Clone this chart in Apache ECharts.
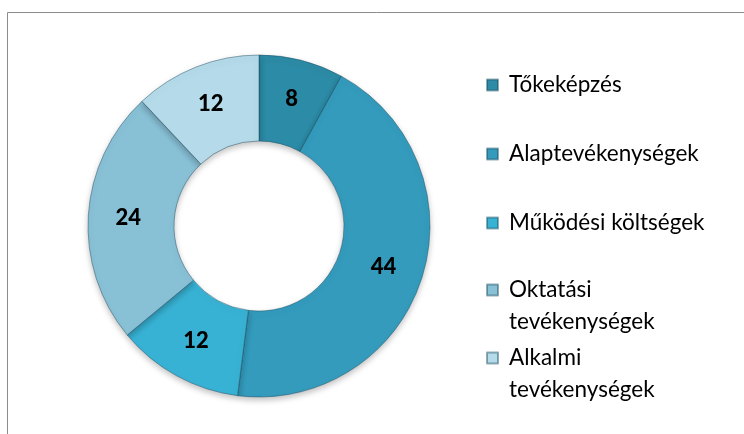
<!DOCTYPE html>
<html>
<head>
<meta charset="utf-8">
<script src="https://cdn.jsdelivr.net/npm/echarts@6/dist/echarts.min.js"></script>
<style>
  html, body { margin: 0; padding: 0; background: #fff; }
  #chart { width: 744px; height: 434px; }
</style>
</head>
<body>
<div id="chart"></div>
<script>
  // adatok
  var categories = ['Tőkeképzés', 'Alaptevékenységek', 'Működési költségek', 'Oktatási tevékenységek', 'Alkalmi tevékenységek'];
  var values = [8, 44, 12, 24, 12];
  var legendLabels = ['Tőkeképzés', 'Alaptevékenységek', 'Működési költségek', 'Oktatási\ntevékenységek', 'Alkalmi\ntevékenységek'];
  var colors = ['#2c8ba6', '#349bbd', '#38b2d4', '#88c0d6', '#b5dae9'];

  var fontFamily = 'Lato, "Open Sans", sans-serif';
  var lineH = 32;
  // a legenda első sorának függőleges közepe
  var legendCenters = [83, 152, 221, 290, 358];

  var mychart = echarts.init(document.getElementById('chart'));

  // egy legenda elemenként, hogy a sorköz egyezzen;
  // két soros névnél egy üres sor kerül elé, így az ikon az első sorhoz igazodik
  var legends = categories.map(function (name, i) {
    var twoLines = legendLabels[i].indexOf('\n') >= 0;
    return {
      data: [name],
      left: 481,
      top: twoLines ? legendCenters[i] - lineH * 1.5 - 5 : legendCenters[i] - lineH / 2 - 3,
      itemWidth: 11,
      itemHeight: 11,
      itemGap: 0,
      icon: 'rect',
      selectedMode: false,
      formatter: function () { return twoLines ? '\n' + legendLabels[i] : legendLabels[i]; },
      textStyle: {
        fontFamily: fontFamily,
        fontSize: 22.5,
        color: '#000',
        lineHeight: lineH,
        padding: [0, 0, 0, 6]
      }
    };
  });

  mychart.setOption({
    animation: false,
    color: colors,
    graphic: [{
      type: 'rect',
      shape: { x: 7.5, y: 12.5, width: 800, height: 500 },
      style: { fill: 'none', stroke: '#8c8c8c', lineWidth: 1 },
      silent: true
    }],
    legend: legends,
    series: [{
      type: 'pie',
      center: [259, 226],
      radius: [85, 171],
      startAngle: 90,
      clockwise: true,
      avoidLabelOverlap: false,
      itemStyle: {
        borderColor: 'rgba(20,70,90,0.45)',
        borderWidth: 1,
        shadowBlur: 6,
        shadowOffsetY: 3,
        shadowColor: 'rgba(0,0,0,0.25)'
      },
      label: {
        show: true,
        position: 'inside',
        formatter: '{c}',
        fontFamily: fontFamily,
        fontWeight: 900,
        fontSize: 22,
        color: '#000'
      },
      labelLine: { show: false },
      emphasis: { disabled: true },
      data: categories.map(function (name, i) {
        return { name: name, value: values[i] };
      })
    }]
  });
</script>
</body>
</html>
